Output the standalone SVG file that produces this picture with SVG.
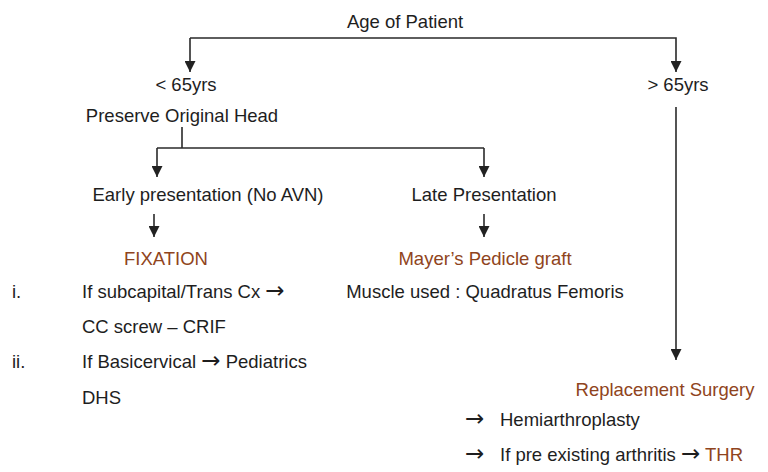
<svg xmlns="http://www.w3.org/2000/svg" width="768" height="472" viewBox="0 0 768 472">
<defs>
<marker id="ah" viewBox="0 0 10 10" refX="10" refY="5" markerWidth="11" markerHeight="11" markerUnits="userSpaceOnUse" orient="auto">
<path d="M0,0 L10,5 L0,10 z" fill="#222"/>
</marker>
</defs>
<style>
text{font-family:"Liberation Sans","DejaVu Sans",sans-serif;font-size:18.5px;fill:#1e1e1e}
.b{fill:#8f4420}
.a{font-family:"DejaVu Sans",sans-serif;font-size:23px}
.c{stroke:#2a2a2a;stroke-width:1.6;fill:none}
</style>
<rect width="768" height="472" fill="#fff"/>
<g id="connectors">
<path class="c" d="M190,38 H676 V72" marker-end="url(#ah)"/>
<path class="c" d="M190,38 V72" marker-end="url(#ah)"/>
<path class="c" d="M182,127 V148"/>
<path class="c" d="M157,148 H484"/>
<path class="c" d="M157,148 V177" marker-end="url(#ah)"/>
<path class="c" d="M484,148 V177" marker-end="url(#ah)"/>
<path class="c" d="M154,214 V237" marker-end="url(#ah)"/>
<path class="c" d="M484,214 V237" marker-end="url(#ah)"/>
<path class="c" d="M676,107 V360" marker-end="url(#ah)"/>
</g>
<g id="n-age"><text x="405" y="28" text-anchor="middle">Age of Patient</text></g>
<g id="n-lt65"><text x="186" y="91" text-anchor="middle">&lt; 65yrs</text></g>
<g id="n-gt65"><text x="678" y="91" text-anchor="middle">&gt; 65yrs</text></g>
<g id="n-preserve"><text x="182" y="122" text-anchor="middle">Preserve Original Head</text></g>
<g id="n-early"><text x="208" y="201" text-anchor="middle">Early presentation (No AVN)</text></g>
<g id="n-late"><text x="484" y="201" text-anchor="middle">Late Presentation</text></g>
<g id="n-fixation">
<text x="166" y="265" text-anchor="middle" class="b">FIXATION</text>
<text x="12" y="298">i.</text>
<text x="82" y="298">If subcapital/Trans Cx <tspan class="a">→</tspan></text>
<text x="82" y="333">CC screw – CRIF</text>
<text x="12" y="368">ii.</text>
<text x="82" y="368">If Basicervical <tspan class="a">→</tspan> Pediatrics</text>
<text x="82" y="404">DHS</text>
</g>
<g id="n-mayer">
<text x="485" y="265" text-anchor="middle" class="b">Mayer’s Pedicle graft</text>
<text x="485" y="298" text-anchor="middle">Muscle used : Quadratus Femoris</text>
</g>
<g id="n-replacement">
<text x="665" y="396" text-anchor="middle" class="b">Replacement Surgery</text>
<text x="465" y="426" class="a">→</text>
<text x="500" y="426">Hemiarthroplasty</text>
<text x="465" y="461" class="a">→</text>
<text x="500" y="461">If pre existing arthritis <tspan class="a">→</tspan> <tspan class="b">THR</tspan></text>
</g>
</svg>
